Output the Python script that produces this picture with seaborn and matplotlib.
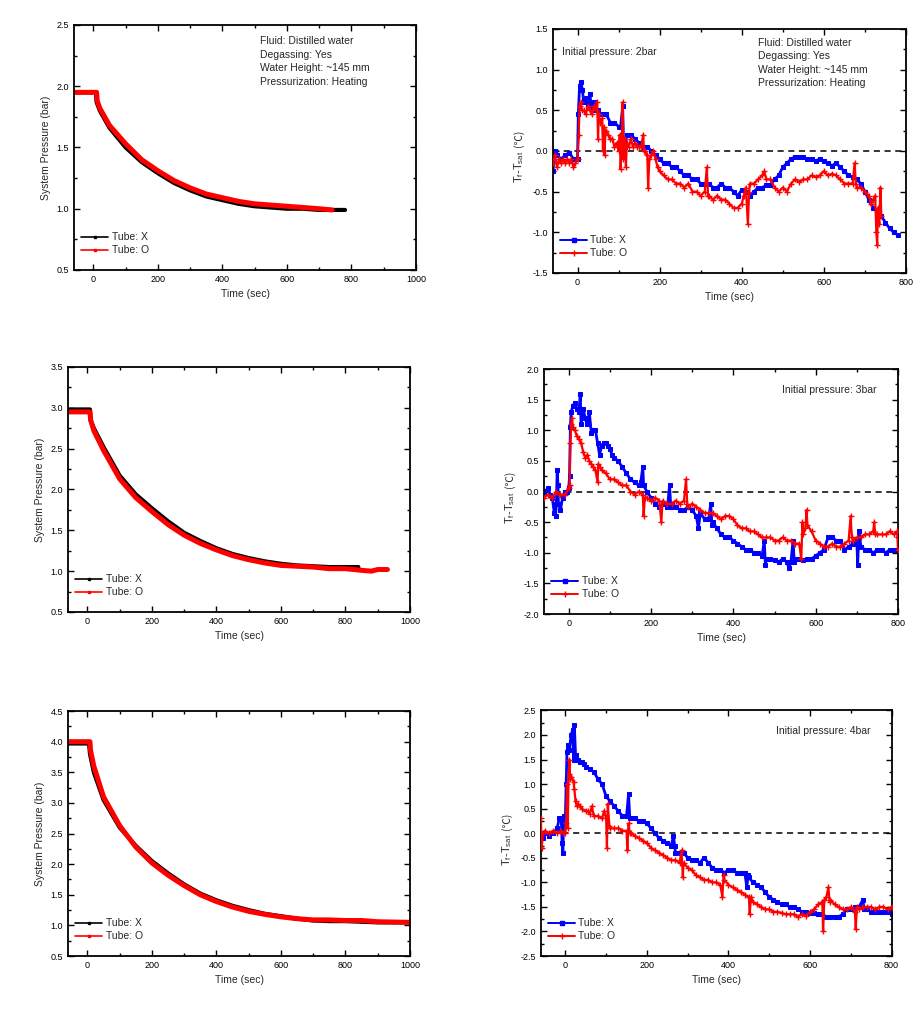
import numpy as np
import pandas as pd
import matplotlib
matplotlib.use("Agg")
import matplotlib.pyplot as plt
import seaborn as sns
from matplotlib.lines import Line2D
from matplotlib.ticker import MultipleLocator

sns.set_style("ticks")
plt.rcParams['font.family'] = ['Liberation Sans', 'DejaVu Sans']
plt.rcParams['mathtext.fontset'] = 'custom'
plt.rcParams['mathtext.rm'] = 'Liberation Sans'
plt.rcParams['mathtext.it'] = 'Liberation Sans'
plt.rcParams['axes.unicode_minus'] = False

# ---------------- Pressure data ----------------
p2_x_t = [-60, 8, 10, 20, 50, 100, 150, 200, 250, 300, 350, 400, 450, 500, 550, 600, 650, 700, 750, 780]
p2_x_v = [1.95, 1.95, 1.87, 1.80, 1.66, 1.50, 1.38, 1.29, 1.21, 1.15, 1.10, 1.07, 1.04, 1.02, 1.01, 1.00, 1.00, 0.99, 0.99, 0.99]
p2_o_t = [-60, 10, 12, 20, 50, 100, 150, 200, 250, 300, 350, 400, 450, 500, 550, 600, 650, 700, 740]
p2_o_v = [1.95, 1.95, 1.88, 1.82, 1.68, 1.53, 1.40, 1.31, 1.23, 1.17, 1.12, 1.09, 1.06, 1.04, 1.03, 1.02, 1.01, 1.00, 0.99]

p3_x_t = [-60, 8, 10, 20, 50, 100, 150, 200, 250, 300, 350, 400, 450, 500, 550, 600, 650, 700, 750, 800, 840]
p3_x_v = [2.98, 2.98, 2.85, 2.75, 2.52, 2.17, 1.94, 1.77, 1.61, 1.47, 1.37, 1.28, 1.21, 1.16, 1.12, 1.09, 1.07, 1.06, 1.05, 1.05, 1.05]
p3_o_t = [-60, 8, 10, 20, 50, 100, 150, 200, 250, 300, 350, 400, 450, 500, 550, 600, 650, 700, 750, 800, 850, 880, 900, 930]
p3_o_v = [2.95, 2.95, 2.85, 2.72, 2.48, 2.13, 1.90, 1.73, 1.57, 1.44, 1.34, 1.26, 1.19, 1.14, 1.10, 1.07, 1.06, 1.05, 1.03, 1.03, 1.01, 1.00, 1.02, 1.02]

p4_x_t = [-60, 5, 8, 20, 50, 100, 150, 200, 250, 300, 350, 400, 450, 500, 550, 600, 650, 700, 750, 800, 850, 900, 1000]
p4_x_v = [3.97, 3.97, 3.80, 3.50, 3.05, 2.60, 2.30, 2.05, 1.85, 1.67, 1.52, 1.41, 1.32, 1.25, 1.19, 1.15, 1.11, 1.08, 1.07, 1.07, 1.06, 1.05, 1.05]
p4_o_t = [-60, 8, 10, 20, 50, 100, 150, 200, 250, 300, 350, 400, 450, 500, 550, 600, 650, 700, 750, 800, 850, 900, 1000]
p4_o_v = [4.00, 4.00, 3.85, 3.60, 3.10, 2.63, 2.28, 2.02, 1.82, 1.65, 1.50, 1.39, 1.30, 1.23, 1.18, 1.14, 1.11, 1.09, 1.09, 1.08, 1.08, 1.06, 1.05]

# ---------------- Temperature difference data ----------------
t2_x_t = [-60, -55, -50, -40, -30, -20, -10, 0, 2, 5, 8, 12, 15, 20, 25, 30, 35, 40, 45, 50, 55, 60, 65, 70, 80, 90, 100, 105, 110, 112, 115, 120, 130, 140, 150, 160, 170, 180, 190, 200, 210, 220, 230, 240, 250, 260, 270, 280, 290, 300, 310, 320, 330, 340, 350, 360, 370, 380, 390, 400, 410, 420, 430, 440, 450, 460, 470, 480, 490, 500, 510, 520, 530, 540, 550, 560, 570, 580, 590, 600, 610, 620, 630, 640, 650, 660, 670, 680, 690, 700, 710, 720, 730, 740, 750, 760, 770, 780]
t2_x_v = [-0.25, 0.0, -0.05, -0.1, -0.05, -0.02, -0.1, -0.1, 0.45, 0.8, 0.85, 0.75, 0.6, 0.65, 0.55, 0.7, 0.5, 0.6, 0.5, 0.5, 0.45, 0.45, 0.45, 0.45, 0.35, 0.35, 0.3, 0.3, 0.55, 0.1, 0.05, 0.2, 0.2, 0.15, 0.1, 0.05, 0.05, 0.0, -0.05, -0.1, -0.15, -0.15, -0.2, -0.2, -0.25, -0.3, -0.3, -0.35, -0.35, -0.4, -0.4, -0.4, -0.45, -0.45, -0.4, -0.45, -0.45, -0.5, -0.55, -0.48, -0.5, -0.55, -0.5, -0.45, -0.45, -0.42, -0.42, -0.35, -0.3, -0.2, -0.15, -0.1, -0.07, -0.08, -0.08, -0.1, -0.1, -0.12, -0.1, -0.12, -0.15, -0.18, -0.15, -0.2, -0.25, -0.3, -0.32, -0.35, -0.4, -0.5, -0.6, -0.7, -0.75, -0.8, -0.88, -0.95, -1.0, -1.03]
t2_o_t = [-60, -55, -50, -45, -40, -35, -30, -25, -20, -15, -10, -5, 0, 3, 5, 8, 10, 15, 20, 25, 30, 35, 40, 45, 48, 50, 52, 55, 60, 62, 64, 66, 68, 70, 75, 80, 85, 90, 95, 100, 103, 105, 108, 110, 112, 115, 118, 120, 125, 130, 135, 140, 145, 150, 155, 160, 162, 165, 170, 172, 175, 180, 185, 190, 195, 200, 210, 220, 230, 240, 250, 260, 270, 280, 290, 300, 310, 315, 318, 320, 330, 340, 350, 360, 370, 380, 390, 400, 405, 410, 415, 418, 420, 430, 440, 450, 455, 460, 470, 480, 490, 500, 510, 520, 530, 540, 550, 560, 570, 580, 590, 600, 610, 620, 630, 640, 650, 660, 670, 675, 678, 680, 690, 700, 710, 715, 720, 725, 728, 730, 732, 735, 738, 740]
t2_o_v = [-0.15, -0.05, -0.2, -0.1, -0.15, -0.1, -0.15, -0.1, -0.15, -0.1, -0.2, -0.15, -0.1, 0.2, 0.55, 0.6, 0.5, 0.5, 0.45, 0.55, 0.5, 0.45, 0.55, 0.5, 0.6, 0.15, 0.45, 0.35, 0.4, 0.0, 0.3, -0.05, 0.25, 0.25, 0.2, 0.15, 0.15, 0.05, 0.1, 0.0, 0.2, -0.22, 0.1, 0.6, -0.1, 0.15, -0.2, 0.1, 0.05, 0.15, 0.05, 0.1, 0.05, 0.05, 0.05, 0.2, 0.0, 0.0, -0.05, -0.45, -0.1, -0.05, 0.0, -0.1, -0.2, -0.25, -0.3, -0.35, -0.35, -0.4, -0.4, -0.45, -0.4, -0.5, -0.5, -0.55, -0.5, -0.2, -0.55, -0.55, -0.6, -0.55, -0.6, -0.6, -0.65, -0.7, -0.7, -0.65, -0.55, -0.45, -0.9, -0.5, -0.4, -0.4, -0.35, -0.3, -0.25, -0.35, -0.35, -0.45, -0.5, -0.45, -0.5, -0.4, -0.35, -0.38, -0.35, -0.35, -0.3, -0.32, -0.3, -0.25, -0.3, -0.28, -0.3, -0.35, -0.4, -0.4, -0.4, -0.15, -0.4, -0.45, -0.45, -0.5, -0.55, -0.65, -0.6, -0.55, -1.0, -1.15, -0.7, -0.9, -0.45, -0.8]

t3_x_t = [-60, -50, -45, -40, -35, -32, -30, -28, -26, -25, -20, -15, -10, -5, 0, 2, 4, 6, 10, 15, 20, 25, 28, 30, 35, 40, 45, 50, 55, 60, 65, 70, 75, 80, 85, 90, 95, 100, 105, 110, 120, 130, 140, 150, 160, 170, 175, 180, 182, 190, 200, 210, 220, 230, 240, 245, 248, 250, 260, 270, 280, 290, 300, 310, 315, 320, 330, 340, 345, 348, 350, 360, 370, 380, 390, 400, 410, 420, 430, 440, 450, 460, 470, 475, 478, 480, 490, 500, 510, 520, 530, 535, 540, 545, 548, 550, 560, 570, 580, 590, 600, 610, 620, 630, 640, 650, 660, 670, 680, 690, 700, 702, 705, 710, 720, 730, 740, 750, 760, 770, 780, 790, 800]
t3_x_v = [0.0, 0.05, -0.05, -0.1, -0.35, -0.4, -0.2, 0.35, 0.1, -0.2, -0.3, -0.1, 0.0, 0.0, 0.05, 0.25, 1.05, 1.3, 1.4, 1.45, 1.35, 1.3, 1.6, 1.1, 1.35, 1.2, 1.1, 1.3, 0.95, 1.0, 1.0, 0.8, 0.6, 0.75, 0.8, 0.8, 0.75, 0.7, 0.6, 0.55, 0.5, 0.4, 0.3, 0.2, 0.15, 0.1, 0.15, 0.4, 0.1, 0.0, -0.1, -0.2, -0.25, -0.2, -0.25, 0.1, -0.25, -0.2, -0.25, -0.3, -0.3, -0.25, -0.3, -0.4, -0.6, -0.35, -0.45, -0.45, -0.2, -0.55, -0.5, -0.6, -0.7, -0.75, -0.75, -0.8, -0.85, -0.9, -0.95, -0.95, -1.0, -1.0, -1.05, -0.8, -1.2, -1.1, -1.1, -1.12, -1.15, -1.1, -1.15, -1.25, -1.15, -0.8, -1.15, -1.1, -1.1, -1.12, -1.1, -1.1, -1.05, -1.0, -0.95, -0.75, -0.75, -0.8, -0.8, -0.95, -0.9, -0.85, -0.8, -1.2, -0.65, -0.9, -0.95, -0.95, -1.0, -0.95, -0.95, -1.0, -0.95, -0.95, -0.95]
t3_o_t = [-60, -50, -40, -30, -20, -10, 0, 2, 4, 6, 8, 10, 15, 20, 25, 30, 35, 40, 45, 50, 55, 60, 65, 70, 72, 75, 80, 90, 100, 110, 120, 130, 140, 150, 160, 170, 180, 182, 185, 190, 200, 210, 220, 225, 228, 240, 250, 260, 270, 280, 285, 288, 290, 300, 310, 320, 330, 340, 350, 360, 370, 380, 390, 400, 410, 420, 430, 440, 450, 460, 470, 480, 490, 500, 510, 520, 530, 540, 550, 560, 565, 568, 570, 575, 578, 580, 590, 600, 610, 620, 630, 640, 650, 660, 670, 680, 685, 688, 690, 700, 710, 720, 730, 740, 742, 745, 750, 760, 770, 780, 790, 798, 800]
t3_o_v = [-0.1, -0.05, -0.1, 0.0, -0.05, -0.05, 0.05, 0.1, 0.8, 1.1, 1.2, 1.05, 1.0, 0.9, 0.85, 0.8, 0.65, 0.55, 0.6, 0.5, 0.45, 0.4, 0.35, 0.15, 0.45, 0.4, 0.35, 0.3, 0.2, 0.2, 0.15, 0.1, 0.1, 0.0, -0.05, 0.0, -0.05, -0.4, -0.1, -0.1, -0.15, -0.1, -0.15, -0.5, -0.15, -0.2, -0.2, -0.15, -0.2, -0.15, 0.2, -0.2, -0.25, -0.2, -0.25, -0.3, -0.35, -0.35, -0.35, -0.4, -0.45, -0.4, -0.4, -0.45, -0.55, -0.6, -0.6, -0.65, -0.65, -0.7, -0.75, -0.75, -0.75, -0.8, -0.8, -0.75, -0.8, -0.8, -0.85, -0.85, -1.1, -0.5, -0.7, -0.6, -0.3, -0.55, -0.65, -0.8, -0.85, -0.9, -0.9, -0.85, -0.9, -0.9, -0.85, -0.8, -0.4, -0.75, -0.8, -0.75, -0.75, -0.7, -0.7, -0.65, -0.5, -0.7, -0.7, -0.7, -0.7, -0.65, -0.7, -0.65, -0.95]

t4_x_t = [-60, -55, -50, -40, -30, -20, -15, -10, -8, -6, -4, 0, 2, 4, 6, 10, 14, 18, 20, 22, 25, 30, 35, 40, 45, 50, 60, 70, 80, 90, 100, 110, 120, 130, 140, 150, 155, 158, 160, 170, 180, 190, 200, 210, 220, 230, 240, 250, 260, 265, 268, 270, 280, 290, 300, 310, 320, 330, 340, 350, 360, 370, 380, 390, 400, 410, 420, 430, 440, 445, 448, 450, 460, 470, 480, 490, 500, 510, 520, 530, 540, 550, 560, 570, 580, 590, 600, 610, 620, 630, 640, 650, 660, 670, 680, 690, 700, 710, 720, 730, 732, 740, 750, 760, 770, 780, 790, 800]
t4_x_v = [0.0, -0.1, 0.0, -0.05, 0.0, 0.1, 0.3, 0.3, -0.2, -0.4, 0.35, 0.3, 1.0, 1.65, 1.8, 1.7, 2.0, 2.1, 1.5, 2.2, 1.6, 1.5, 1.45, 1.45, 1.4, 1.35, 1.3, 1.25, 1.1, 1.0, 0.75, 0.65, 0.55, 0.45, 0.35, 0.35, 0.8, 0.3, 0.3, 0.3, 0.25, 0.25, 0.2, 0.1, 0.0, -0.1, -0.15, -0.2, -0.25, -0.05, -0.25, -0.4, -0.4, -0.4, -0.5, -0.55, -0.55, -0.6, -0.5, -0.6, -0.7, -0.75, -0.75, -0.8, -0.75, -0.75, -0.8, -0.8, -0.8, -1.1, -0.85, -0.9, -1.0, -1.05, -1.1, -1.2, -1.3, -1.35, -1.4, -1.45, -1.45, -1.5, -1.5, -1.55, -1.6, -1.6, -1.62, -1.62, -1.65, -1.65, -1.7, -1.7, -1.7, -1.7, -1.65, -1.55, -1.55, -1.5, -1.5, -1.35, -1.55, -1.55, -1.6, -1.6, -1.6, -1.6, -1.6, -1.65]
t4_o_t = [-60, -58, -55, -50, -40, -30, -20, -10, -5, 0, 2, 4, 6, 8, 10, 12, 15, 20, 22, 25, 28, 30, 35, 40, 50, 55, 60, 65, 70, 80, 90, 95, 100, 102, 104, 108, 110, 120, 130, 140, 150, 152, 155, 158, 160, 170, 180, 190, 200, 210, 220, 230, 240, 250, 260, 270, 280, 285, 288, 290, 300, 310, 320, 330, 340, 350, 360, 370, 380, 385, 388, 390, 400, 410, 420, 430, 440, 450, 452, 455, 460, 470, 480, 490, 500, 510, 520, 530, 540, 550, 560, 570, 580, 590, 600, 610, 620, 630, 632, 635, 640, 645, 648, 650, 660, 670, 680, 690, 700, 710, 712, 715, 720, 730, 740, 750, 760, 770, 780, 790, 800]
t4_o_v = [0.3, -0.3, 0.0, 0.05, 0.0, 0.05, 0.0, 0.05, 0.0, 0.0, 0.2, 1.0, 0.1, 1.2, 1.5, 1.1, 1.15, 1.05, 0.9, 0.65, 0.55, 0.6, 0.55, 0.5, 0.45, 0.45, 0.4, 0.55, 0.35, 0.35, 0.3, 0.45, 0.3, -0.3, 0.6, 0.15, 0.1, 0.1, 0.1, 0.05, 0.05, -0.35, 0.2, 0.0, 0.0, -0.05, -0.1, -0.15, -0.2, -0.3, -0.35, -0.4, -0.45, -0.5, -0.55, -0.55, -0.6, -0.35, -0.9, -0.6, -0.7, -0.75, -0.85, -0.9, -0.95, -0.95, -1.0, -1.0, -1.05, -1.3, -0.85, -0.95, -1.05, -1.1, -1.15, -1.2, -1.25, -1.3, -1.65, -1.3, -1.4, -1.45, -1.5, -1.55, -1.55, -1.6, -1.6, -1.62, -1.65, -1.65, -1.65, -1.7, -1.65, -1.68, -1.6, -1.55, -1.45, -1.4, -2.0, -1.35, -1.3, -1.1, -1.4, -1.35, -1.45, -1.5, -1.55, -1.55, -1.5, -1.6, -1.95, -1.5, -1.55, -1.5, -1.5, -1.5, -1.55, -1.5, -1.5, -1.55, -1.5]

info_lines = ["Fluid: Distilled water", "Degassing: Yes", "Water Height: ~145 mm", "Pressurization: Heating"]
legend_labels = ["Tube: X", "Tube: O"]
pressure_labels = ["Initial pressure: 2bar", "Initial pressure: 3bar", "Initial pressure: 4bar"]
ylabel_main = "T$_f$-T$_{sat}$"
ylabel_unit = "(\u2103)"

fig = plt.figure(figsize=(9.23, 10.32), dpi=100)

pos_left = [[0.0802, 0.7384, 0.3705, 0.2374],
            [0.0737, 0.4070, 0.3705, 0.2374],
            [0.0737, 0.0736, 0.3705, 0.2374]]
pos_right = [[0.5990, 0.7355, 0.3825, 0.2364],
             [0.5894, 0.4050, 0.3835, 0.2374],
             [0.5860, 0.0736, 0.3800, 0.2380]]

FS_TICK = 6.5
FS_LAB = 7.5
FS_TXT = 7.5


def style_axes(ax, ymajor, yminor):
    ax.xaxis.set_major_locator(MultipleLocator(200))
    ax.xaxis.set_minor_locator(MultipleLocator(100))
    ax.yaxis.set_major_locator(MultipleLocator(ymajor))
    ax.yaxis.set_minor_locator(MultipleLocator(yminor))
    ax.tick_params(which='both', direction='in', top=True, right=True, labelsize=FS_TICK, width=1.0, colors='black')
    ax.tick_params(which='major', length=4)
    ax.tick_params(which='minor', length=2)
    for s in ax.spines.values():
        s.set_linewidth(1.3)
        s.set_color('black')
    ax.grid(False)


pdata = [(p2_x_t, p2_x_v, p2_o_t, p2_o_v, (0.5, 2.5)),
         (p3_x_t, p3_x_v, p3_o_t, p3_o_v, (0.5, 3.5)),
         (p4_x_t, p4_x_v, p4_o_t, p4_o_v, (0.5, 4.5))]

for i, (xt, xv, ot, ov, yl) in enumerate(pdata):
    ax = fig.add_axes(pos_left[i])
    sns.lineplot(x=xt, y=xv, ax=ax, color='black', lw=3.0, estimator=None, sort=False)
    sns.lineplot(x=ot, y=ov, ax=ax, color='#ff0000', lw=3.6, estimator=None, sort=False)
    ax.set_xlim(-60, 1000)
    ax.set_ylim(*yl)
    style_axes(ax, 0.5, 0.25)
    ax.set_xlabel("Time (sec)", fontsize=FS_LAB)
    ax.set_ylabel("System Pressure (bar)", fontsize=FS_LAB)
    handles = [Line2D([], [], color='black', lw=1.2, marker='s', ms=1.5),
               Line2D([], [], color='#ff0000', lw=1.2, marker='s', ms=1.5)]
    ax.legend(handles, legend_labels, loc='lower left', bbox_to_anchor=(0.0, 0.03), frameon=False,
              fontsize=FS_TXT, handlelength=2.6, handletextpad=0.3, labelspacing=0.3, borderaxespad=0.3)
    if i == 0:
        ax.text(0.545, 0.955, "\n".join(info_lines), transform=ax.transAxes, fontsize=FS_TXT,
                va='top', ha='left', linespacing=1.45)

tdata = [(t2_x_t, t2_x_v, t2_o_t, t2_o_v, (-1.5, 1.5)),
         (t3_x_t, t3_x_v, t3_o_t, t3_o_v, (-2.0, 2.0)),
         (t4_x_t, t4_x_v, t4_o_t, t4_o_v, (-2.5, 2.5))]

for i, (xt, xv, ot, ov, yl) in enumerate(tdata):
    ax = fig.add_axes(pos_right[i])
    ax.axhline(0, color='black', lw=1.1, ls=(0, (4, 3)), zorder=1)
    sns.lineplot(x=xt, y=xv, ax=ax, color='#0000ff', lw=2.0, marker='s', ms=3.2, mec='#0000ff',
                 estimator=None, sort=False, zorder=2)
    sns.lineplot(x=ot, y=ov, ax=ax, color='#ff0000', lw=1.6, marker='+', ms=4, mew=1.0, mec='#ff0000',
                 estimator=None, sort=False, zorder=3)
    ax.set_xlim(-60, 800)
    ax.set_ylim(*yl)
    style_axes(ax, 0.5, 0.25)
    ax.set_xlabel("Time (sec)", fontsize=FS_LAB)
    # y label in two parts so the degree-Celsius sign can use a font that has it
    ax.text(-0.097, 0.50, ylabel_main, transform=ax.transAxes, rotation=90, rotation_mode='anchor',
            ha='right', va='center', fontsize=FS_LAB + 0.5)
    ax.text(-0.097, 0.515, ylabel_unit, transform=ax.transAxes, rotation=90, rotation_mode='anchor',
            ha='left', va='center', fontsize=FS_LAB,
            family=['Noto Sans CJK SC', 'DejaVu Sans'])
    handles = [Line2D([], [], color='#0000ff', lw=1.4, marker='s', ms=2.5),
               Line2D([], [], color='#ff0000', lw=1.4, marker='+', ms=4)]
    ax.legend(handles, legend_labels, loc='lower left', bbox_to_anchor=(0.0, 0.03), frameon=False,
              fontsize=FS_TXT, handlelength=2.6, handletextpad=0.3, labelspacing=0.3, borderaxespad=0.3)
    if i == 0:
        ax.text(0.025, 0.905, pressure_labels[0], transform=ax.transAxes, fontsize=FS_TXT, va='center', ha='left')
        ax.text(0.58, 0.965, "\n".join(info_lines), transform=ax.transAxes, fontsize=FS_TXT,
                va='top', ha='left', linespacing=1.45)
    else:
        ax.text(0.94, 0.915, pressure_labels[i], transform=ax.transAxes, fontsize=FS_TXT, va='center', ha='right')

fig.savefig("out.png", dpi=100, facecolor='white')
